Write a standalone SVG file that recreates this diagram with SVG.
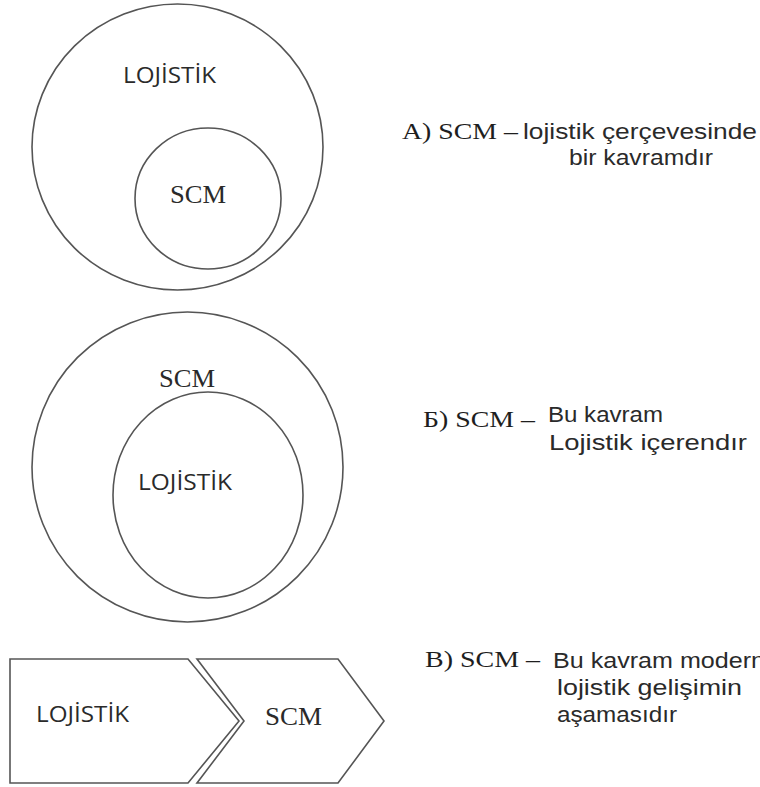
<svg xmlns="http://www.w3.org/2000/svg" width="760" height="787" viewBox="0 0 760 787">
<style>
.sh{fill:none;stroke:#555;stroke-width:1.6}
.sans{font-family:"Open Sans","Liberation Sans",sans-serif;font-size:22px;fill:#2a2a2a}
.cap{font-family:"Liberation Sans","Open Sans",sans-serif;font-size:22px;fill:#2a2a2a}
.serif{font-family:"Liberation Serif","DejaVu Serif",serif;font-size:25px;fill:#2a2a2a}
.lbl{font-family:"Liberation Serif","DejaVu Serif",serif;font-size:23px;fill:#1e1e1e}
</style>
<rect width="760" height="787" fill="#fff"/>
<g id="diagramA">
  <g id="a-logistics">
    <ellipse class="sh" cx="177.5" cy="147" rx="145.5" ry="143"/>
    <text class="sans" x="123" y="83" textLength="93" lengthAdjust="spacingAndGlyphs">LOJİSTİK</text>
  </g>
  <g id="a-scm">
    <ellipse class="sh" cx="208" cy="198.5" rx="73" ry="70.5"/>
    <text class="serif" x="170" y="203" textLength="56" lengthAdjust="spacingAndGlyphs">SCM</text>
  </g>
  <g id="a-caption">
    <text class="lbl" x="402" y="139" textLength="116" lengthAdjust="spacingAndGlyphs">А) SCM –</text>
    <text class="cap" x="523" y="139" textLength="234" lengthAdjust="spacingAndGlyphs">lojistik çerçevesinde</text>
    <text class="cap" x="569" y="165" textLength="144" lengthAdjust="spacingAndGlyphs">bir kavramdır</text>
  </g>
</g>
<g id="diagramB">
  <g id="b-scm">
    <ellipse class="sh" cx="187.5" cy="467" rx="155.5" ry="155"/>
    <text class="serif" x="159" y="387" textLength="56" lengthAdjust="spacingAndGlyphs">SCM</text>
  </g>
  <g id="b-logistics">
    <ellipse class="sh" cx="208" cy="495" rx="95" ry="103"/>
    <text class="sans" x="138" y="490" textLength="94" lengthAdjust="spacingAndGlyphs">LOJİSTİK</text>
  </g>
  <g id="b-caption">
    <text class="lbl" x="423" y="427" textLength="112" lengthAdjust="spacingAndGlyphs">Б) SCM –</text>
    <text class="cap" x="548" y="422" textLength="115" lengthAdjust="spacingAndGlyphs">Bu kavram</text>
    <text class="cap" x="549" y="450" textLength="198" lengthAdjust="spacingAndGlyphs">Lojistik içerendır</text>
  </g>
</g>
<g id="diagramC">
  <g id="c-logistics">
    <polygon class="sh" points="10,659 188,659 239,721 188,783 10,783"/>
    <text class="sans" x="36" y="722" textLength="93" lengthAdjust="spacingAndGlyphs">LOJİSTİK</text>
  </g>
  <g id="c-scm">
    <polygon class="sh" points="197,659 338,659 384,721 338,783 197,783 244,721"/>
    <text class="serif" x="265" y="725" textLength="57" lengthAdjust="spacingAndGlyphs">SCM</text>
  </g>
  <g id="c-caption">
    <text class="lbl" x="425" y="667" textLength="115" lengthAdjust="spacingAndGlyphs">В) SCM –</text>
    <text class="cap" x="553" y="668" textLength="212" lengthAdjust="spacingAndGlyphs">Bu kavram modern</text>
    <text class="cap" x="557" y="695" textLength="185" lengthAdjust="spacingAndGlyphs">lojistik gelişimin</text>
    <text class="cap" x="557" y="722" textLength="120" lengthAdjust="spacingAndGlyphs">aşamasıdır</text>
  </g>
</g>
</svg>
